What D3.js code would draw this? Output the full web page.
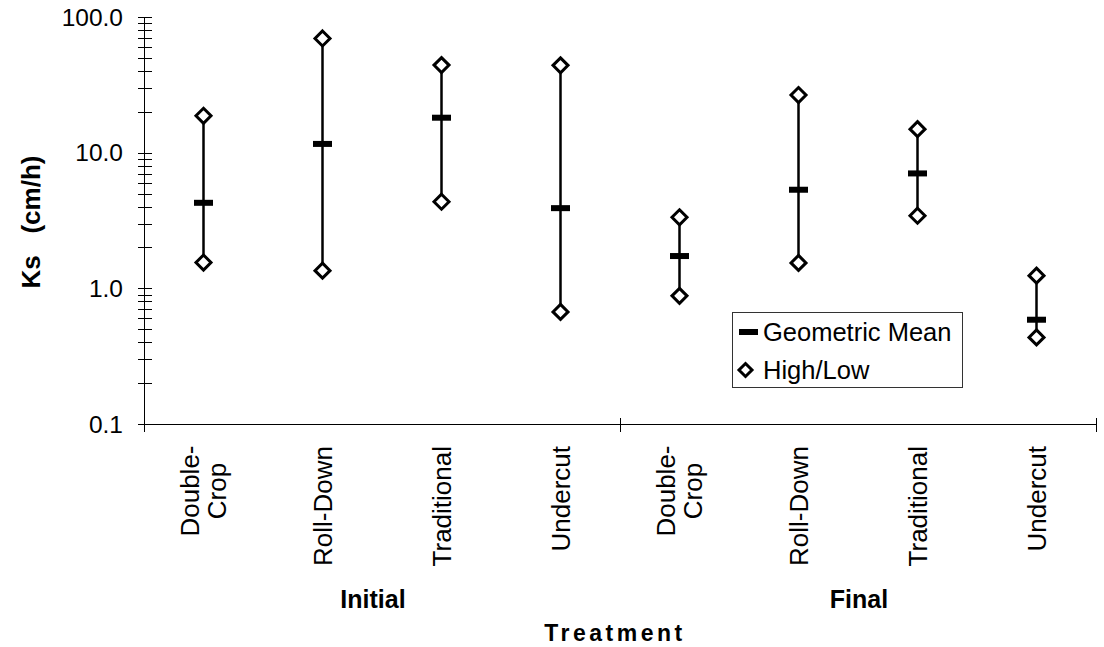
<!DOCTYPE html>
<html>
<head>
<meta charset="utf-8">
<script src="https://cdn.jsdelivr.net/npm/d3@7"></script>
<style>
  html, body { margin: 0; padding: 0; background: #fff; }
  svg { display: block; font-family: "Liberation Sans", Arial, sans-serif; }
</style>
</head>
<body>
<svg id="chart" width="1104" height="647"></svg>
<script>
// ---- data ----
const categories = ["Double-Crop", "Roll-Down", "Traditional", "Undercut",
                    "Double-Crop", "Roll-Down", "Traditional", "Undercut"];
const categoryLines = [["Double-", "Crop"], ["Roll-Down"], ["Traditional"], ["Undercut"],
                       ["Double-", "Crop"], ["Roll-Down"], ["Traditional"], ["Undercut"]];
const groups = ["Initial", "Final"];
const geometricMean = [4.27, 11.6, 18.1, 3.9, 1.73, 5.33, 7.03, 0.587];
const highValues    = [18.7, 69.5, 44.2, 44.0, 3.34, 26.6, 14.9, 1.24];
const lowValues     = [1.55, 1.35, 4.35, 0.67, 0.88, 1.54, 3.43, 0.435];
const yTickValues = [0.1, 1, 10, 100];
const yTickLabels = ["0.1", "1.0", "10.0", "100.0"];

const svg = d3.select("#chart");
const mLeft = 144, mRight = 1096, mTop = 17, mBottom = 424;
const groupLabelShift = [-9, 1];

const x = d3.scaleBand().domain(d3.range(categories.length)).range([mLeft, mRight]);
const y = d3.scaleLog().domain([0.1, 100]).range([mBottom, mTop]);

// minor ticks 2..9 per decade
const minorTicks = [];
for (let e = -1; e < 2; e++) for (let m = 2; m <= 9; m++) minorTicks.push(m * Math.pow(10, e));

const yAxis = svg.append("g");
yAxis.append("line").attr("x1", mLeft + 0.5).attr("x2", mLeft + 0.5)
  .attr("y1", y(100)).attr("y2", y(0.1)).attr("stroke", "#000");
yAxis.selectAll("line.minor").data(minorTicks.concat(yTickValues)).enter().append("line")
  .attr("class", "minor")
  .attr("x1", mLeft - 6).attr("x2", mLeft + 8)
  .attr("y1", d => Math.round(y(d)) + 0.5).attr("y2", d => Math.round(y(d)) + 0.5)
  .attr("stroke", "#000");
yAxis.selectAll("text").data(yTickValues).enter().append("text")
  .attr("x", 123).attr("y", d => y(d)).attr("dy", "0.35em")
  .attr("text-anchor", "end").attr("font-size", 24.5).attr("fill", "#000")
  .text((d, i) => yTickLabels[i]);

// x axis
const xAxis = svg.append("g");
xAxis.append("line").attr("x1", mLeft).attr("x2", mRight)
  .attr("y1", mBottom + 0.5).attr("y2", mBottom + 0.5).attr("stroke", "#000");
const groupEdges = [mLeft, x(4), mRight];
xAxis.selectAll("line.gt").data(groupEdges).enter().append("line")
  .attr("class", "gt")
  .attr("x1", d => Math.round(d) + 0.5).attr("x2", d => Math.round(d) + 0.5)
  .attr("y1", mBottom - 6).attr("y2", mBottom + 8).attr("stroke", "#000");

// category labels (rotated)
categoryLines.forEach((lines, i) => {
  const cx = x(i) + x.bandwidth() / 2;
  const n = lines.length;
  lines.forEach((t, j) => {
    const off = (j - (n - 1) / 2) * 27;
    svg.append("text")
      .attr("transform", `translate(${cx + off},${n > 1 ? 491 : 446}) rotate(-90)`)
      .attr("text-anchor", n > 1 ? "middle" : "end")
      .attr("dy", "0.35em")
      .attr("font-size", 26).attr("fill", "#000").text(t);
  });
});

// group labels
groups.forEach((g, gi) => {
  const cx = (x(gi * 4 + 1) + x(gi * 4 + 3)) / 2 + groupLabelShift[gi];
  svg.append("text").attr("x", cx).attr("y", 608)
    .attr("text-anchor", "middle").attr("font-size", 25).attr("font-weight", "bold")
    .text(g);
});

// axis titles
svg.append("text").attr("x", (mLeft + mRight) / 2 - 5).attr("y", 641)
  .attr("text-anchor", "middle").attr("font-size", 23).attr("font-weight", "bold")
  .attr("letter-spacing", 3.5).text("Treatment");
svg.append("text")
  .attr("transform", `translate(40,222) rotate(-90)`)
  .attr("text-anchor", "middle").attr("font-size", 26).attr("font-weight", "bold")
  .style("white-space", "pre").text("Ks   (cm/h)");

// error bars
const marks = svg.append("g");
const cxOf = i => x(i) + x.bandwidth() / 2;
marks.selectAll("line.range").data(categories).enter().append("line")
  .attr("x1", (d, i) => cxOf(i)).attr("x2", (d, i) => cxOf(i))
  .attr("y1", (d, i) => y(highValues[i])).attr("y2", (d, i) => y(lowValues[i]))
  .attr("stroke", "#000").attr("stroke-width", 2.5);
marks.selectAll("rect.mean").data(geometricMean).enter().append("rect")
  .attr("x", (d, i) => cxOf(i) - 9.5).attr("y", d => y(d) - 3)
  .attr("width", 19).attr("height", 6).attr("fill", "#000");
const diamond = (cx, cy, r) => `M${cx},${cy - r}L${cx + r},${cy}L${cx},${cy + r}L${cx - r},${cy}Z`;
const hl = [];
highValues.forEach((v, i) => hl.push([i, v]));
lowValues.forEach((v, i) => hl.push([i, v]));
marks.selectAll("path.hl").data(hl).enter().append("path")
  .attr("d", d => diamond(cxOf(d[0]), y(d[1]), 7.5))
  .attr("fill", "#fff").attr("stroke", "#000").attr("stroke-width", 3);

// legend
const lg = svg.append("g");
lg.append("rect").attr("x", 732.5).attr("y", 312.5).attr("width", 230).attr("height", 75)
  .attr("fill", "#fff").attr("stroke", "#333").attr("stroke-width", 1);
lg.append("rect").attr("x", 739).attr("y", 329).attr("width", 19).attr("height", 6).attr("fill", "#000");
lg.append("path").attr("d", diamond(745.5, 370, 6.5)).attr("fill", "#fff")
  .attr("stroke", "#000").attr("stroke-width", 3);
lg.append("text").attr("x", 763).attr("y", 332).attr("dy", "0.35em").attr("font-size", 25.5)
  .style("white-space", "pre").text("Geometric Mean");
lg.append("text").attr("x", 763).attr("y", 370).attr("dy", "0.35em").attr("font-size", 25.5)
  .text("High/Low");
</script>
</body>
</html>
